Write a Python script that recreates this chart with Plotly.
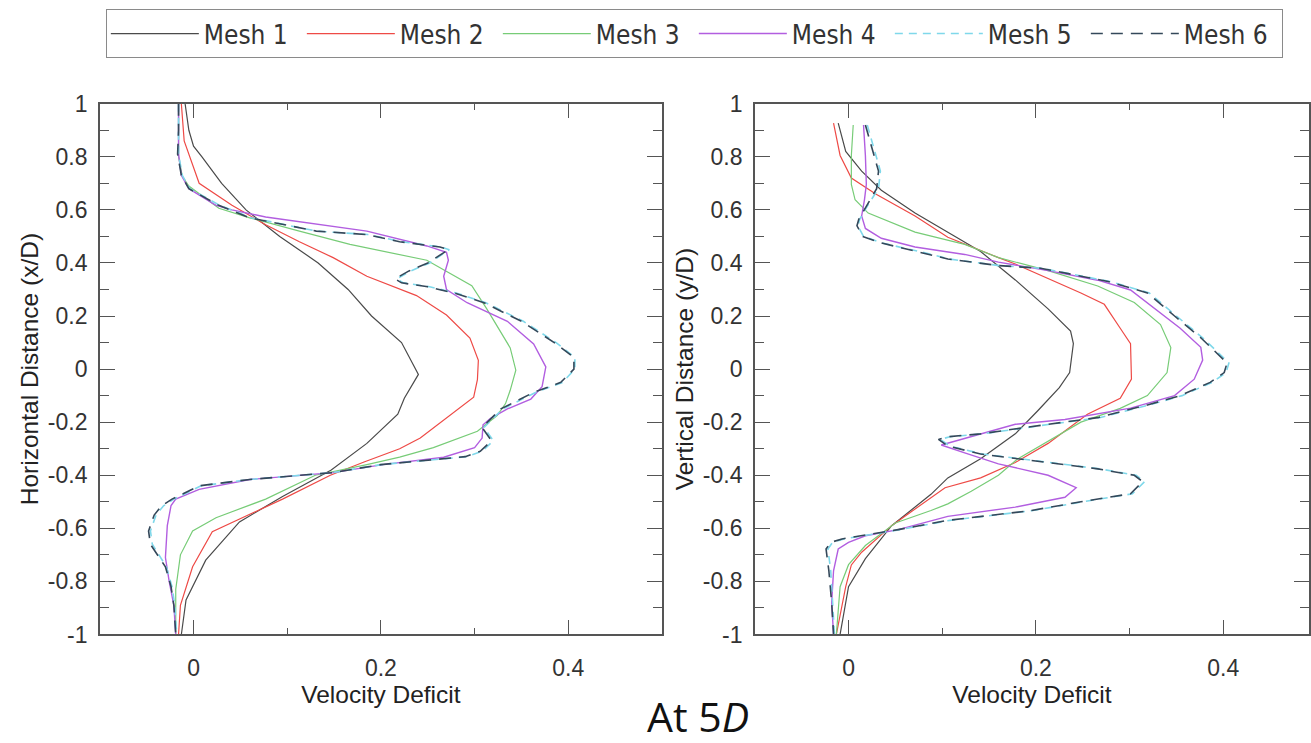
import plotly.graph_objects as go

# ---------------- Horizontal profile (x/D) ----------------
h_m1_y = [1.0, 0.9, 0.84, 0.8, 0.7, 0.6, 0.5, 0.4, 0.3, 0.2, 0.1, -0.02, -0.11, -0.17, -0.28, -0.38, -0.48, -0.576, -0.72, -0.87, -1.0]
h_m1_x = [-0.009, -0.005, 0.0, 0.009, 0.03, 0.056, 0.092, 0.133, 0.165, 0.19, 0.222, 0.24, 0.225, 0.218, 0.185, 0.147, 0.095, 0.049, 0.013, -0.008, -0.013]

h_m2_y = [1.0, 0.86, 0.70, 0.617, 0.544, 0.48, 0.42, 0.35, 0.277, 0.204, 0.117, 0.033, -0.04, -0.106, -0.26, -0.30, -0.35, -0.40, -0.49, -0.588, -0.613, -0.745, -0.89, -1.0]
h_m2_x = [-0.013, -0.01, 0.006, 0.041, 0.077, 0.113, 0.149, 0.185, 0.238, 0.27, 0.295, 0.304, 0.303, 0.299, 0.242, 0.22, 0.182, 0.146, 0.095, 0.034, 0.02, -0.001, -0.014, -0.016]

h_m3_y = [1.0, 0.8, 0.726, 0.69, 0.606, 0.57, 0.52, 0.47, 0.41, 0.314, 0.227, 0.08, -0.004, -0.08, -0.13, -0.175, -0.234, -0.296, -0.332, -0.36, -0.40, -0.49, -0.56, -0.61, -0.70, -0.83, -1.0]
h_m3_x = [-0.016, -0.016, -0.012, -0.005, 0.027, 0.06, 0.113, 0.167, 0.249, 0.297, 0.313, 0.338, 0.344, 0.338, 0.333, 0.324, 0.303, 0.256, 0.22, 0.185, 0.13, 0.077, 0.024, -0.001, -0.014, -0.019, -0.019]

h_m4_y = [1.0, 0.81, 0.73, 0.68, 0.617, 0.6, 0.573, 0.555, 0.52, 0.464, 0.44, 0.41, 0.35, 0.30, 0.25, 0.18, 0.095, 0.008, -0.066, -0.113, -0.15, -0.186, -0.21, -0.26, -0.296, -0.332, -0.36, -0.39, -0.416, -0.453, -0.49, -0.514, -0.59, -0.71, -0.80, -0.89, -1.0]
h_m4_x = [-0.016, -0.016, -0.013, -0.005, 0.024, 0.041, 0.077, 0.113, 0.185, 0.249, 0.27, 0.272, 0.267, 0.27, 0.292, 0.335, 0.363, 0.376, 0.372, 0.36, 0.335, 0.317, 0.309, 0.308, 0.3, 0.267, 0.202, 0.149, 0.06, 0.006, -0.019, -0.024, -0.028, -0.03, -0.026, -0.021, -0.019]

h_m5_y = [1.0, 0.9, 0.81, 0.73, 0.68, 0.617, 0.57, 0.52, 0.507, 0.48, 0.46, 0.45, 0.40, 0.37, 0.34, 0.325, 0.31, 0.285, 0.25, 0.18, 0.10, 0.044, 0.0, -0.05, -0.088, -0.15, -0.22, -0.27, -0.31, -0.33, -0.36, -0.39, -0.416, -0.44, -0.49, -0.515, -0.55, -0.61, -0.66, -0.745, -0.82, -0.89, -1.0]
h_m5_x = [-0.016, -0.016, -0.016, -0.012, -0.004, 0.028, 0.062, 0.131, 0.186, 0.222, 0.264, 0.273, 0.252, 0.232, 0.217, 0.224, 0.252, 0.282, 0.312, 0.352, 0.387, 0.407, 0.407, 0.394, 0.365, 0.33, 0.31, 0.32, 0.308, 0.291, 0.2, 0.149, 0.06, 0.008, -0.021, -0.032, -0.040, -0.046, -0.044, -0.029, -0.023, -0.020, -0.018]

h_m6_y = [1.0, 0.9, 0.81, 0.73, 0.68, 0.617, 0.57, 0.52, 0.507, 0.48, 0.46, 0.45, 0.40, 0.37, 0.34, 0.325, 0.31, 0.285, 0.25, 0.18, 0.10, 0.044, 0.0, -0.05, -0.088, -0.15, -0.22, -0.27, -0.31, -0.33, -0.36, -0.39, -0.416, -0.44, -0.49, -0.515, -0.55, -0.61, -0.66, -0.745, -0.82, -0.89, -1.0]
h_m6_x = [-0.016, -0.016, -0.017, -0.013, -0.005, 0.027, 0.06, 0.131, 0.185, 0.22, 0.263, 0.272, 0.25, 0.23, 0.215, 0.222, 0.25, 0.28, 0.31, 0.35, 0.385, 0.406, 0.406, 0.392, 0.363, 0.328, 0.308, 0.318, 0.306, 0.29, 0.2, 0.149, 0.06, 0.006, -0.023, -0.034, -0.042, -0.048, -0.046, -0.03, -0.024, -0.021, -0.019]

# ---------------- Vertical profile (y/D) ----------------
v_m1_y = [0.927, 0.82, 0.746, 0.674, 0.588, 0.516, 0.443, 0.336, 0.227, 0.143, 0.096, -0.013, -0.07, -0.157, -0.244, -0.338, -0.41, -0.472, -0.59, -0.714, -0.82, -1.0]
v_m1_x = [-0.011, -0.003, 0.014, 0.035, 0.071, 0.106, 0.141, 0.178, 0.213, 0.237, 0.24, 0.236, 0.225, 0.202, 0.178, 0.141, 0.106, 0.088, 0.046, 0.018, 0.0, -0.009]

v_m2_y = [0.927, 0.805, 0.72, 0.66, 0.577, 0.497, 0.42, 0.396, 0.287, 0.244, 0.154, 0.096, -0.038, -0.11, -0.17, -0.28, -0.352, -0.41, -0.447, -0.59, -0.69, -0.738, -0.82, -1.0]
v_m2_x = [-0.016, -0.009, 0.003, 0.029, 0.071, 0.106, 0.16, 0.178, 0.248, 0.273, 0.29, 0.301, 0.302, 0.29, 0.255, 0.213, 0.178, 0.141, 0.103, 0.046, 0.014, 0.003, -0.003, -0.013]

v_m3_y = [0.92, 0.805, 0.696, 0.638, 0.588, 0.516, 0.47, 0.42, 0.371, 0.313, 0.251, 0.168, 0.081, -0.013, -0.1, -0.148, -0.2, -0.28, -0.34, -0.40, -0.46, -0.508, -0.533, -0.58, -0.665, -0.737, -0.82, -1.0]
v_m3_x = [0.005, 0.003, 0.003, 0.007, 0.021, 0.071, 0.124, 0.16, 0.213, 0.266, 0.305, 0.333, 0.344, 0.34, 0.319, 0.29, 0.248, 0.21, 0.18, 0.16, 0.131, 0.106, 0.088, 0.05, 0.018, 0.0, -0.009, -0.013]

v_m4_y = [0.92, 0.805, 0.696, 0.638, 0.577, 0.53, 0.493, 0.46, 0.432, 0.403, 0.371, 0.335, 0.298, 0.24, 0.154, 0.082, 0.034, -0.038, -0.1, -0.147, -0.19, -0.208, -0.245, -0.286, -0.316, -0.357, -0.4, -0.447, -0.483, -0.52, -0.555, -0.605, -0.628, -0.653, -0.678, -0.76, -0.88, -1.0]
v_m4_x = [0.016, 0.018, 0.019, 0.017, 0.014, 0.018, 0.035, 0.071, 0.124, 0.16, 0.213, 0.266, 0.301, 0.322, 0.354, 0.376, 0.378, 0.369, 0.348, 0.301, 0.231, 0.178, 0.14, 0.099, 0.124, 0.16, 0.213, 0.243, 0.231, 0.178, 0.106, 0.053, 0.018, 0.0, -0.011, -0.016, -0.018, -0.016]

v_m5_y = [0.92, 0.83, 0.746, 0.68, 0.62, 0.565, 0.54, 0.5, 0.475, 0.432, 0.415, 0.39, 0.38, 0.33, 0.287, 0.2, 0.118, 0.023, -0.013, -0.05, -0.1, -0.135, -0.183, -0.208, -0.244, -0.255, -0.265, -0.29, -0.32, -0.352, -0.376, -0.4, -0.424, -0.47, -0.5, -0.533, -0.557, -0.57, -0.605, -0.64, -0.653, -0.678, -0.76, -0.88, -1.0]
v_m5_x = [0.02, 0.027, 0.034, 0.032, 0.021, 0.012, 0.01, 0.016, 0.036, 0.089, 0.107, 0.161, 0.206, 0.279, 0.321, 0.35, 0.378, 0.406, 0.403, 0.388, 0.356, 0.321, 0.268, 0.215, 0.143, 0.108, 0.098, 0.108, 0.143, 0.215, 0.268, 0.307, 0.316, 0.303, 0.25, 0.197, 0.143, 0.108, 0.055, -0.005, -0.017, -0.022, -0.019, -0.017, -0.015]

v_m6_y = [0.92, 0.83, 0.746, 0.68, 0.62, 0.565, 0.54, 0.5, 0.475, 0.432, 0.415, 0.39, 0.38, 0.33, 0.287, 0.2, 0.118, 0.023, -0.013, -0.05, -0.1, -0.135, -0.183, -0.208, -0.244, -0.255, -0.265, -0.29, -0.32, -0.352, -0.376, -0.4, -0.424, -0.47, -0.5, -0.533, -0.557, -0.57, -0.605, -0.64, -0.653, -0.678, -0.76, -0.88, -1.0]
v_m6_x = [0.018, 0.025, 0.032, 0.03, 0.02, 0.011, 0.009, 0.015, 0.035, 0.088, 0.106, 0.16, 0.205, 0.277, 0.319, 0.348, 0.376, 0.404, 0.401, 0.386, 0.354, 0.319, 0.266, 0.213, 0.141, 0.106, 0.096, 0.106, 0.141, 0.213, 0.266, 0.305, 0.314, 0.301, 0.248, 0.195, 0.141, 0.106, 0.053, -0.007, -0.019, -0.024, -0.021, -0.018, -0.016]

mesh_names = ["Mesh 1", "Mesh 2", "Mesh 3", "Mesh 4", "Mesh 5", "Mesh 6"]

y_tick_vals = [-1, -0.8, -0.6, -0.4, -0.2, 0, 0.2, 0.4, 0.6, 0.8, 1]
y_tick_text = ["-1", "-0.8", "-0.6", "-0.4", "-0.2", "0", "0.2", "0.4", "0.6", "0.8", "1"]
x_tick_vals = [0, 0.2, 0.4]
x_tick_text = ["0", "0.2", "0.4"]

line_styles = [
    dict(color="#4a4a4a", width=1.2),
    dict(color="#ee4a46", width=1.2),
    dict(color="#77cc77", width=1.2),
    dict(color="#b25ee0", width=1.4),
    dict(color="#7fd8ea", width=1.6, dash="8px,6px"),
    dict(color="#34485a", width=1.6, dash="12px,8px"),
]

h_series = [(h_m1_x, h_m1_y), (h_m2_x, h_m2_y), (h_m3_x, h_m3_y),
            (h_m4_x, h_m4_y), (h_m5_x, h_m5_y), (h_m6_x, h_m6_y)]
v_series = [(v_m1_x, v_m1_y), (v_m2_x, v_m2_y), (v_m3_x, v_m3_y),
            (v_m4_x, v_m4_y), (v_m5_x, v_m5_y), (v_m6_x, v_m6_y)]

fig = go.Figure()
for name, style, (xs, ys) in zip(mesh_names, line_styles, h_series):
    fig.add_trace(go.Scatter(x=xs, y=ys, mode="lines", name=name, line=style,
                             legendgroup=name, xaxis="x", yaxis="y"))
for name, style, (xs, ys) in zip(mesh_names, line_styles, v_series):
    fig.add_trace(go.Scatter(x=xs, y=ys, mode="lines", name=name, line=style,
                             legendgroup=name, showlegend=False, xaxis="x2", yaxis="y2"))

W, H = 1311, 743
axis_font = dict(family="Liberation Sans, Arial, sans-serif", size=23, color="#333333")
title_font = dict(family="Liberation Sans, Arial, sans-serif", size=24.5, color="#222222")

common_x = dict(range=[-0.1, 0.5], tickmode="array", tickvals=x_tick_vals, ticktext=x_tick_text,
                ticks="inside", ticklen=15, tickwidth=1.2, tickcolor="#555555",
                minor=dict(dtick=0.1, tick0=0, ticks="inside", ticklen=7, tickwidth=1.2, tickcolor="#555555"),
                showline=True, linecolor="#555555", linewidth=1.5, mirror="ticks",
                showgrid=False, zeroline=False, tickfont=axis_font, ticklabelstandoff=12,
                title=dict(text="Velocity Deficit", font=title_font, standoff=2))
common_y = dict(range=[-1, 1], tickmode="array", tickvals=y_tick_vals, ticktext=y_tick_text,
                ticks="inside", ticklen=15, tickwidth=1.2, tickcolor="#555555",
                minor=dict(dtick=0.1, tick0=0, ticks="inside", ticklen=9, tickwidth=1.2, tickcolor="#555555"),
                showline=True, linecolor="#555555", linewidth=1.5, mirror="ticks",
                showgrid=False, zeroline=False, tickfont=axis_font, ticklabelstandoff=6,
                domain=[1 - 644 / H, 1 - 94 / H])

fig.update_layout(
    width=W, height=H,
    margin=dict(l=0, r=0, t=0, b=0),
    paper_bgcolor="white", plot_bgcolor="white",
    showlegend=True,
    xaxis=dict(common_x, domain=[100 / W, 663 / W], anchor="y"),
    yaxis=dict(common_y, anchor="x",
               title=dict(text="Horizontal Distance (x/D)", font=title_font, standoff=2)),
    xaxis2=dict(common_x, domain=[756 / W, 1.0], anchor="y2", range=[-0.1, 0.4915]),
    yaxis2=dict(common_y, anchor="x2",
                title=dict(text="Vertical Distance (y/D)", font=title_font, standoff=2)),
    legend=dict(orientation="h", x=106 / W, xanchor="left", y=1 + 4 / H, yanchor="top",
                bgcolor="white", bordercolor="#8a8a8a", borderwidth=1,
                itemwidth=88, entrywidth=93, entrywidthmode="pixels",
                font=dict(family="Liberation Sans Narrow, Arial Narrow, DejaVu Sans Condensed, sans-serif",
                          size=26, color="#333333")),
    annotations=[dict(text="At 5<i>D</i>", x=699 / W, y=(H - 728) / H, xref="paper", yref="paper",
                      xanchor="center", yanchor="middle", showarrow=False,
                      font=dict(family="Open Sans, sans-serif", size=41, color="#111111"))],
)

fig.write_html("out.html")
